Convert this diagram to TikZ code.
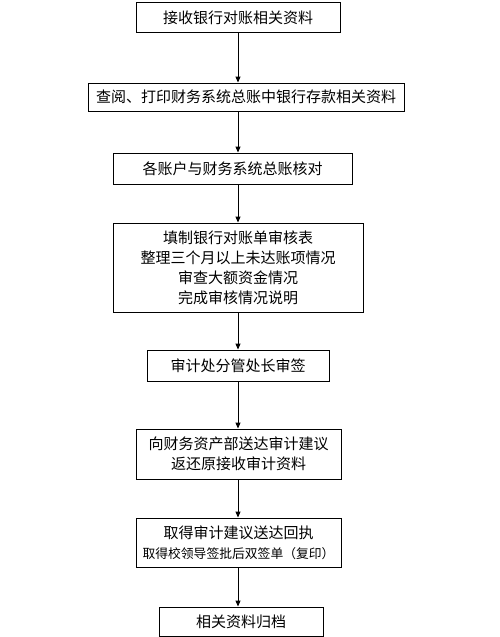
\documentclass[tikz,border=0pt]{standalone}
\usepackage{fontspec}
\setmainfont{Noto Sans CJK SC}
\usetikzlibrary{arrows.meta, positioning}

\begin{document}
\begin{tikzpicture}[
    x=1pt, y=1pt,
    font=\fontsize{15pt}{20pt}\selectfont,
    >={Triangle[length=6pt, width=5pt]},
    stepbox/.style={draw=black, line width=0.9pt, align=center, inner sep=0pt},
    arrow/.style={->, line width=0.9pt}
]
\useasboundingbox (0,0) rectangle (500,-637);

% Main column
\coordinate (axis) at (238,0);
\node[stepbox, minimum width=204pt, minimum height=30pt] (receive) at (238,-17.5) {接收银行对账相关资料};
\node[stepbox, minimum width=316pt, minimum height=28pt] (print) at (246,-97) {查阅、打印财务系统总账中银行存款相关资料};
\node[stepbox, minimum width=239pt, minimum height=31pt] (check) at (232.5,-168.5) {各账户与财务系统总账核对};
\node[stepbox, minimum width=250pt, minimum height=89pt] (review) at (238,-267.5) {填制银行对账单审核表\\整理三个月以上未达账项情况\\审查大额资金情况\\完成审核情况说明};
\node[stepbox, minimum width=182pt, minimum height=31pt] (sign) at (238,-365.5) {审计处分管处长审签};
\node[stepbox, minimum width=205pt, minimum height=50pt] (advice) at (238.5,-454) {向财务资产部送达审计建议\\返还原接收审计资料};
\node[stepbox, minimum width=205pt, minimum height=49pt] (receipt) at (238.5,-542.5) {取得审计建议送达回执\\{\fontsize{12.8pt}{20pt}\selectfont 取得校领导签批后双签单（复印）}};
\node[stepbox, minimum width=164pt, minimum height=29pt] (archive) at (241,-621.5) {相关资料归档};

% Connections
\foreach \from/\to in {receive/print, print/check, check/review, review/sign, sign/advice, advice/receipt, receipt/archive}
    \draw[arrow] (\from.south -| axis) -- (\to.north -| axis);

\end{tikzpicture}
\end{document}
